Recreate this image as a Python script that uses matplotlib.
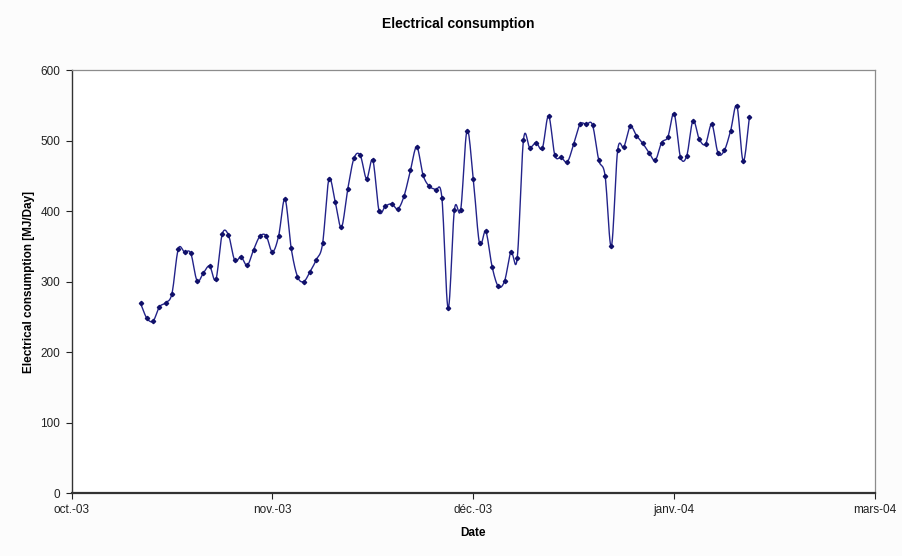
import numpy as np
import matplotlib
matplotlib.use("Agg")
import matplotlib.pyplot as plt

# daily consumption values [MJ/Day]
day_offset = 11  # first measurement, days after axis start (oct.-03)
consumption = [269, 248, 244, 264, 270, 283, 346, 342, 340, 301,
               312, 322, 303, 367, 366, 330, 335, 323, 345, 364,
               365, 342, 365, 417, 347, 307, 300, 314, 331, 354,
               445, 413, 377, 431, 475, 479, 446, 472, 400, 407,
               410, 403, 422, 458, 491, 451, 435, 430, 419, 262,
               402, 402, 514, 446, 354, 371, 321, 293, 301, 342,
               333, 501, 490, 497, 489, 535, 479, 476, 470, 495,
               523, 523, 522, 472, 450, 350, 486, 491, 520, 507,
               496, 483, 472, 497, 505, 538, 477, 478, 528, 502,
               495, 523, 482, 486, 514, 549, 471, 533]
tick_labels = ["oct.-03", "nov.-03", "déc.-03", "janv.-04", "mars-04"]
tick_step = 32  # days between axis labels

days = day_offset + np.arange(len(consumption))
vals = np.array(consumption, dtype=float)


def smooth(x, y, n=12):
    # catmull-rom curve through the points (like excel's smoothed line)
    xp = np.concatenate([[2*x[0]-x[1]], x, [2*x[-1]-x[-2]]])
    yp = np.concatenate([[2*y[0]-y[1]], y, [2*y[-1]-y[-2]]])
    xs, ys = [], []
    t = np.linspace(0, 1, n, endpoint=False)
    for i in range(1, len(xp)-2):
        for arr, out in ((xp, xs), (yp, ys)):
            p0, p1, p2, p3 = arr[i-1], arr[i], arr[i+1], arr[i+2]
            out.extend(0.5*((2*p1) + (-p0+p2)*t + (2*p0-5*p1+4*p2-p3)*t**2
                            + (-p0+3*p1-3*p2+p3)*t**3))
    xs.append(x[-1]); ys.append(y[-1])
    return np.array(xs), np.array(ys)


plt.rcParams['font.family'] = ['Liberation Sans', 'DejaVu Sans']

fig = plt.figure(figsize=(9.03, 5.56), dpi=100)
fig.patch.set_facecolor('#fcfcfc')
ax = fig.add_axes([0.0792, 0.1133, 0.8898, 0.7607])
ax.set_facecolor('white')

sx, sy = smooth(days.astype(float), vals)
ax.plot(sx, sy, color='#23238a', lw=1.0)
ax.plot(days, vals, ls='none', marker='D', ms=2.2, color='#10106a')

ax.set_xlim(0, tick_step*4)
ax.set_ylim(0, 600)
ax.set_xticks(np.arange(5)*tick_step)
ax.set_xticklabels(tick_labels)
ax.set_yticks(np.arange(0, 601, 100))

for s in ['top', 'right']:
    ax.spines[s].set_color('#8c8c8c')
    ax.spines[s].set_linewidth(0.9)
for s in ['left', 'bottom']:
    ax.spines[s].set_color('#333333')
    ax.spines[s].set_linewidth(1.0)
ax.spines['bottom'].set_linewidth(1.6)
ax.tick_params(direction='out', length=4, width=0.8, labelsize=8.5,
               colors='#222222', pad=4)

fig.suptitle("Electrical consumption", x=0.508, y=0.97, fontsize=10,
             fontweight='bold')
ax.set_xlabel("Date", fontsize=8.5, fontweight='bold', labelpad=8)
ax.set_ylabel("Electrical consumption [MJ/Day]", fontsize=8.5,
              fontweight='bold', labelpad=4)

plt.savefig("out.png", dpi=100, facecolor=fig.get_facecolor())
plt.close()
